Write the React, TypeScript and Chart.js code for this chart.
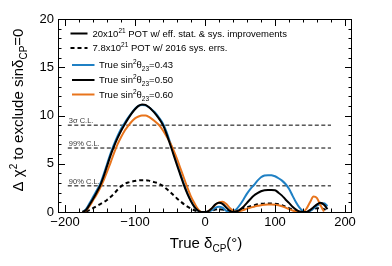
import React, { useEffect, useRef } from "react";
import { Chart, registerables } from "chart.js";

Chart.register(...registerables);

const FONT = '"Liberation Sans", Arial, Helvetica, sans-serif';

// delta_CP sample points (degrees)
const deltaLeft = [-175,-170,-165,-160,-155,-150,-145,-140,-135,-130,-125,-120,-115,-110,-105,-100,-95,-90,-85,-80,-75,-70,-65,-60,-55,-50,-45,-40,-35,-30,-25,-20,-15,-10,-5,0];
const deltaRight = [5,10,15,20,25,30,35,40,45,50,55,60,65,70,75,80,85,90,95,100,105,110,115,120,125,130,135,140,145,150,155,160,165,170,175];

// 20e21 POT, sin2theta23 = 0.50 (black)
const chi2_050_left = [0,0.2,0.75,1.35,2.0,2.7,3.65,4.75,5.85,6.8,7.65,8.4,9.05,9.65,10.2,10.65,11.0,11.15,11.1,10.85,10.5,10.1,9.6,9.0,8.1,7.05,5.95,4.85,3.8,2.75,1.85,1.1,0.5,0.15,0.0,0.0];
const chi2_050_right = [0.1,0.4,0.8,0.95,0.85,0.5,0.15,0.0,0.05,0.25,0.55,0.95,1.35,1.7,1.95,2.15,2.25,2.27,2.27,2.25,2.0,1.7,1.3,0.95,0.55,0.25,0.05,0.0,0.0,0.2,0.5,0.8,0.95,0.75,0.3];
// 20e21 POT, sin2theta23 = 0.43 (blue)
const chi2_043_left = [0,0.3,0.9,1.55,2.2,2.85,3.85,4.95,6.05,7.0,7.85,8.6,9.2,9.75,10.25,10.7,11.0,11.1,11.05,10.85,10.55,10.2,9.7,9.15,8.3,7.25,6.15,5.05,3.95,2.9,1.95,1.15,0.55,0.15,0.0,0.0];
const chi2_043_right = [0.05,0.2,0.45,0.55,0.45,0.15,0.0,0.05,0.3,0.75,1.3,1.9,2.4,2.8,3.25,3.6,3.78,3.82,3.8,3.7,3.5,3.25,2.9,2.4,1.7,1.0,0.45,0.1,0.0,0.1,0.35,0.65,0.85,0.9,0.6];
// 20e21 POT, sin2theta23 = 0.60 (orange)
const chi2_060_left = [0,0.15,0.6,1.2,1.8,2.45,3.25,4.15,5.1,6.1,7.0,7.75,8.4,8.9,9.35,9.7,9.9,10.0,10.0,9.85,9.6,9.3,8.95,8.45,7.85,7.2,6.4,5.5,4.5,3.5,2.5,1.6,0.9,0.3,0.0,0.0];
const chi2_060_right = [0.1,0.4,0.75,1.0,1.05,0.85,0.45,0.15,0.05,0.1,0.2,0.35,0.45,0.55,0.65,0.7,0.75,0.77,0.77,0.75,0.7,0.6,0.45,0.3,0.15,0.05,0.0,0.0,0.35,1.0,1.6,1.45,0.7,0.05,null];
// 7.8e21 POT w/ 2016 sys. errs. (black dashed)
const chi2_2016_left = [null,0.05,0.2,0.4,0.6,0.8,1.0,1.25,1.55,1.9,2.3,2.65,2.9,3.05,3.15,3.22,3.28,3.3,3.3,3.25,3.15,3.05,2.9,2.7,2.4,2.1,1.75,1.4,1.1,0.8,0.55,0.35,0.18,0.06,0.0,0.0];
const chi2_2016_right = [0.05,0.15,0.25,0.3,0.25,0.15,0.1,0.1,0.15,0.25,0.4,0.5,0.6,0.7,0.8,0.85,0.87,0.88,0.87,0.85,0.8,0.7,0.55,0.4,0.25,0.12,0.05,0.02,0.05,0.15,0.3,0.4,0.4,0.3,0.1];

// Confidence-level reference lines
const clNames = ["3\u03c3 C.L.", "99% C.L.", "90% C.L."];
const clValues = [9.0, 6.63, 2.71];
const clRange = [-196, 180];

// Axis ticks
const xTickValues = [-200, -100, 0, 100, 200];
const yTickValues = [0, 5, 10, 15, 20];

// Legend texts
const legendPOT = [
  [{ t: "20x10" }, { t: "21", sup: true }, { t: " POT w/ eff. stat. & sys. improvements" }],
  [{ t: "7.8x10" }, { t: "21", sup: true }, { t: " POT w/ 2016 sys. errs." }],
];
const legendTheta = ["0.43", "0.50", "0.60"];

const BLUE = "#1f80c4";
const ORANGE = "#e8741c";
const BLACK = "#000000";

type Seg = { t: string; sup?: boolean; sub?: boolean };

function pts(xs: number[], ys: (number | null)[]) {
  const out: { x: number; y: number }[] = [];
  xs.forEach((x, i) => {
    const y = ys[i];
    if (y !== null && y !== undefined) out.push({ x, y });
  });
  return out;
}

function drawRich(ctx: CanvasRenderingContext2D, segs: Seg[], x: number, y: number, size: number, small: number, align: "left" | "center") {
  let total = 0;
  const widths = segs.map((s) => {
    ctx.font = `${s.sup || s.sub ? small : size}px ${FONT}`;
    const w = ctx.measureText(s.t).width;
    total += w;
    return w;
  });
  let cx = align === "center" ? x - total / 2 : x;
  ctx.textAlign = "left";
  ctx.textBaseline = "alphabetic";
  segs.forEach((s, i) => {
    ctx.font = `${s.sup || s.sub ? small : size}px ${FONT}`;
    const dy = s.sup ? -size * 0.42 : s.sub ? size * 0.28 : 0;
    ctx.fillText(s.t, cx, y + dy);
    cx += widths[i];
  });
}

const overlayPlugin = {
  id: "overlay",
  afterDraw(chart: any) {
    const ctx: CanvasRenderingContext2D = chart.ctx;
    const { left, right, top, bottom } = chart.chartArea;
    const xs = chart.scales.x;
    const ys = chart.scales.y;
    ctx.save();
    // frame
    ctx.strokeStyle = "#000";
    ctx.lineWidth = 1;
    ctx.setLineDash([]);
    ctx.strokeRect(Math.round(left) + 0.5, Math.round(top) + 0.5, Math.round(right - left) - 1, Math.round(bottom - top));
    // ticks (inside)
    ctx.beginPath();
    for (let v = -200; v <= 200; v += 20) {
      const px = Math.round(xs.getPixelForValue(v)) + 0.5;
      const len = v % 100 === 0 ? 7 : 3.5;
      ctx.moveTo(px, bottom);
      ctx.lineTo(px, bottom - len);
      ctx.moveTo(px, top);
      ctx.lineTo(px, top + len);
    }
    for (let v = 0; v <= 20; v += 1) {
      const py = Math.round(ys.getPixelForValue(v)) + 0.5;
      const len = v % 5 === 0 ? 7 : 3.5;
      ctx.moveTo(left, py);
      ctx.lineTo(left + len, py);
      ctx.moveTo(right, py);
      ctx.lineTo(right - len, py);
    }
    ctx.stroke();

    // CL labels
    ctx.fillStyle = "#3a3a3a";
    ctx.font = `7.5px ${FONT}`;
    ctx.textAlign = "left";
    ctx.textBaseline = "alphabetic";
    clNames.forEach((n, i) => {
      const py = ys.getPixelForValue(clValues[i]);
      ctx.fillText(n, xs.getPixelForValue(clRange[0]) + 1, py - 2);
    });

    // legend
    ctx.fillStyle = "#000";
    const lx0 = 70.5, lx1 = 87.5, ltx = 92.5;
    const rows1 = [33.5, 48];
    legendPOT.forEach((segs, i) => {
      ctx.strokeStyle = "#000";
      ctx.lineWidth = 2;
      ctx.setLineDash(i === 0 ? [] : [4, 3]);
      ctx.beginPath();
      ctx.moveTo(lx0, rows1[i]);
      ctx.lineTo(lx1, rows1[i]);
      ctx.stroke();
      ctx.setLineDash([]);
      drawRich(ctx, segs as Seg[], ltx, rows1[i] + 3.4, 9.5, 6.5, "left");
    });
    const rows2 = [65, 80, 94.5];
    const cols = [BLUE, BLACK, ORANGE];
    legendTheta.forEach((val, i) => {
      ctx.strokeStyle = cols[i];
      ctx.lineWidth = 2;
      ctx.setLineDash([]);
      ctx.beginPath();
      ctx.moveTo(72, rows2[i]);
      ctx.lineTo(94.5, rows2[i]);
      ctx.stroke();
      drawRich(ctx, [{ t: "True sin" }, { t: "2", sup: true }, { t: "\u03b8" }, { t: "23", sub: true }, { t: "=" + val }], 99, rows2[i] + 3.4, 9.5, 6.5, "left");
    });

    // axis titles
    ctx.fillStyle = "#000";
    drawRich(ctx, [{ t: "True \u03b4" }, { t: "CP", sub: true }, { t: "(\u00b0)" }], 206, 248, 15, 10, "center");
    ctx.save();
    ctx.translate(23, 110);
    ctx.rotate(-Math.PI / 2);
    drawRich(ctx, [{ t: "\u0394 \u03c7" }, { t: "2", sup: true }, { t: " to exclude sin\u03b4" }, { t: "CP", sub: true }, { t: "=0" }], 0, 0, 15, 10, "center");
    ctx.restore();
    ctx.restore();
  },
};

function lineDs(data: { x: number; y: number }[], color: string, dashed = false, width = 2) {
  return {
    data,
    borderColor: color,
    backgroundColor: color,
    borderWidth: width,
    borderDash: dashed ? [4, 3] : [],
    pointRadius: 0,
    fill: false,
    cubicInterpolationMode: "monotone" as const,
    tension: 0.4,
  };
}

export default function App() {
  const ref = useRef<HTMLCanvasElement | null>(null);
  useEffect(() => {
    if (!ref.current) return;
    const allX = [...deltaLeft, ...deltaRight];
    const datasets: any[] = [
      lineDs(pts(allX, [...chi2_050_left, ...chi2_050_right]), BLACK),
      lineDs(pts(allX, [...chi2_060_left, ...chi2_060_right]), ORANGE),
      lineDs(pts(allX, [...chi2_043_left, ...chi2_043_right]), BLUE),
      lineDs(pts(allX, [...chi2_2016_left, ...chi2_2016_right]), BLACK, true),
      ...clValues.map((v) => ({
        ...lineDs([{ x: clRange[0], y: v }, { x: clRange[1], y: v }], "#000", false, 1),
        borderDash: [4, 2.5],
        cubicInterpolationMode: "default",
        tension: 0,
      })),
    ];
    const fmt = (v: any) => {
      const n = Number(v);
      return n < 0 ? "\u2212" + Math.abs(n) : String(n);
    };
    const chart = new Chart(ref.current, {
      type: "line",
      data: { datasets },
      options: {
        responsive: false,
        animation: false,
        parsing: false as any,
        layout: { padding: { left: 0, top: 19, right: 40, bottom: 0 } },
        plugins: { legend: { display: false }, tooltip: { enabled: false } },
        scales: {
          x: {
            type: "linear",
            min: -210,
            max: 210,
            afterBuildTicks: (s: any) => {
              s.ticks = xTickValues.map((v) => ({ value: v }));
            },
            afterFit: (s: any) => {
              s.height = 54;
            },
            ticks: { callback: fmt, color: "#000", font: { family: FONT, size: 13 }, padding: 3, maxRotation: 0, autoSkip: false },
            grid: { display: false, drawTicks: false },
            border: { display: false },
          },
          y: {
            type: "linear",
            min: 0,
            max: 20,
            afterBuildTicks: (s: any) => {
              s.ticks = yTickValues.map((v) => ({ value: v }));
            },
            afterFit: (s: any) => {
              s.width = 58;
            },
            ticks: { callback: fmt, color: "#000", font: { family: FONT, size: 13 }, padding: 4, autoSkip: false },
            grid: { display: false, drawTicks: false },
            border: { display: false },
          },
        },
      },
      plugins: [overlayPlugin],
    });
    return () => chart.destroy();
  }, []);
  return (
    <div style={{ position: "absolute", left: 0, top: 0, width: 392, height: 266, background: "#fff" }}>
      <canvas ref={ref} width={392} height={266} style={{ display: "block", width: 392, height: 266 }} />
    </div>
  );
}
